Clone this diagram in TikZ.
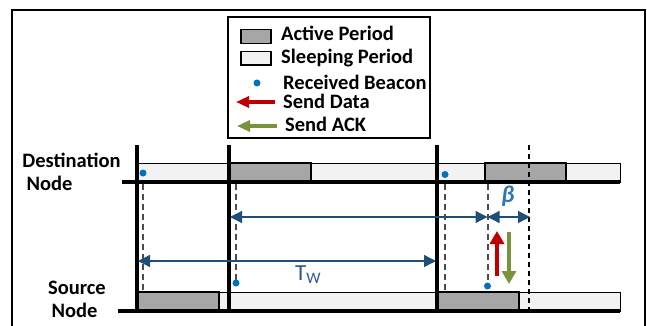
\documentclass[tikz,border=0pt]{standalone}
\usepackage{fontspec}
\setmainfont{Carlito}
\usetikzlibrary{arrows.meta}
\definecolor{actg}{HTML}{A6A6A6}
\definecolor{slpg}{HTML}{F2F2F2}
\definecolor{dotb}{HTML}{0070C0}
\definecolor{arrb}{HTML}{1F4E79}
\definecolor{twb}{HTML}{2F5597}
\definecolor{redd}{HTML}{C00000}
\definecolor{grn}{HTML}{77933C}
\definecolor{lblb}{HTML}{2E75B6}
\begin{document}
\begin{tikzpicture}[x=1pt,y=-1pt,
  activebox/.style={fill=actg,draw=black,line width=1.2pt},
  sleepbox/.style={fill=slpg,draw=black,line width=0.9pt},
  baseln/.style={line width=3.6pt},
  vertln/.style={line width=3.2pt},
  dashln/.style={draw=black!70,line width=2pt,dash pattern=on 6pt off 4pt},
  thinln/.style={draw=black,line width=1.2pt,dash pattern=on 5pt off 4pt},
  beacon/.style={circle,fill=dotb,inner sep=0pt,minimum size=7pt},
  dimarr/.style={draw=arrb,line width=1.3pt,{Triangle[length=12pt,width=12pt]}-{Triangle[length=12pt,width=12pt]}},
  fatarr/.style={line width=4pt,-{Triangle[length=13pt,width=14pt]}},
  txt/.style={font=\fontsize{20.5}{24}\selectfont\bfseries,inner sep=0pt}]
\useasboundingbox (0,0) rectangle (647,326);
% outer frame
\draw[line width=1.4pt] (12,330) -- (12,10) -- (645,10) -- (645,330);
% legend
\draw[line width=1.3pt] (228,17) rectangle (430,138);
\draw[activebox] (241,29.5) rectangle (271,43.5);
\draw[sleepbox,line width=1.2pt] (241,51.5) rectangle (271,65);
\node[beacon] (lgdot) at (257,83) {};
\coordinate (lgr1) at (275,102); \coordinate (lgr2) at (236,102);
\coordinate (lgg1) at (277,126); \coordinate (lgg2) at (237,126);
\draw[fatarr,redd,-{Triangle[length=13pt,width=11pt]}] (lgr1) -- (lgr2);
\draw[fatarr,grn,-{Triangle[length=13pt,width=11pt]}] (lgg1) -- (lgg2);
\node[txt,anchor=west] (la) at (281,33) {Active Period};
\node[txt,anchor=west] (ls) at (281,58) {Sleeping Period};
\node[txt,anchor=west] (lb) at (283,82) {Received Beacon};
\node[txt,anchor=west] (ld) at (283,101) {Send Data};
\node[txt,anchor=west] (lk) at (285,124) {Send ACK};
% destination bar
\draw[sleepbox] (137,163) rectangle (620,182);
\draw[activebox] (229,163) rectangle (311,182);
\draw[activebox] (485,163) rectangle (566,182);
% source bar
\draw[sleepbox] (137,292) rectangle (620,311);
\draw[activebox] (137,292) rectangle (219,311);
\draw[activebox] (437,292) rectangle (519,311);
% dashed guide lines
\coordinate (d1t) at (143,184); \coordinate (d1b) at (143,290);
\coordinate (d2t) at (236,184); \coordinate (d2b) at (236,283);
\coordinate (d3t) at (445,184); \coordinate (d3b) at (445,290);
\coordinate (d4t) at (487.5,184); \coordinate (d4b) at (487.5,286);
\draw[dashln] (d1t) -- (d1b);
\draw[dashln] (d2t) -- (d2b);
\draw[dashln] (d3t) -- (d3b);
\draw[dashln] (d4t) -- (d4b);
\coordinate (t5t) at (529,145); \coordinate (t5b) at (529,315);
\draw[thinln] (t5t) -- (t5b);
% vertical lines
\coordinate (v1t) at (137,145); \coordinate (v1b) at (137,311);
\coordinate (v2t) at (229,145); \coordinate (v2b) at (229,311);
\coordinate (v3t) at (437,145); \coordinate (v3b) at (437,310);
\draw[vertln] (v1t) -- (v1b);
\draw[vertln] (v2t) -- (v2b);
\draw[vertln] (v3t) -- (v3b);
% baselines
\coordinate (db1) at (122,182); \coordinate (db2) at (620,182);
\coordinate (sb1) at (118,311); \coordinate (sb2) at (620,311);
\draw[baseln] (db1) -- (db2);
\draw[baseln] (sb1) -- (sb2);
% beacons
\node[beacon] (bd1) at (143,173) {};
\node[beacon] (bs2) at (236,283) {};
\node[beacon] (bd3) at (445,174.5) {};
\node[beacon] (bs4) at (487.5,286) {};
% dimension arrows
\coordinate (ua) at (230,217); \coordinate (ub) at (487.5,217); \coordinate (uc) at (530,217);
\coordinate (la1) at (138,261); \coordinate (la2) at (436,261);
\draw[dimarr] (ua) -- (ub);
\draw[dimarr] (ub) -- (uc);
\draw[dimarr] (la1) -- (la2);
% data / ack arrows
\coordinate (rd1) at (497,276); \coordinate (rd2) at (497,231);
\coordinate (ga1) at (509,232); \coordinate (ga2) at (509,284);
\draw[fatarr,redd] (rd1) -- (rd2);
\draw[fatarr,grn] (ga1) -- (ga2);
% labels
\node[txt,anchor=center] (dn1) at (71.5,160.5) {Destination};
\node[txt,anchor=center] (dn2) at (49.5,183) {Node};
\node[txt,anchor=center] (sn1) at (77,288) {Source};
\node[txt,anchor=center] (sn2) at (74.5,310) {Node};
\node[inner sep=0pt,text=lblb,font=\fontsize{24}{24}\selectfont\bfseries\itshape] (beta) at (508,196) {β};
\node[inner sep=0pt,text=twb,font=\fontsize{23}{24}\selectfont,anchor=base west] (tw) at (295,280) {T\raisebox{-3pt}{\fontsize{16}{16}\selectfont W}};
\end{tikzpicture}
\end{document}
